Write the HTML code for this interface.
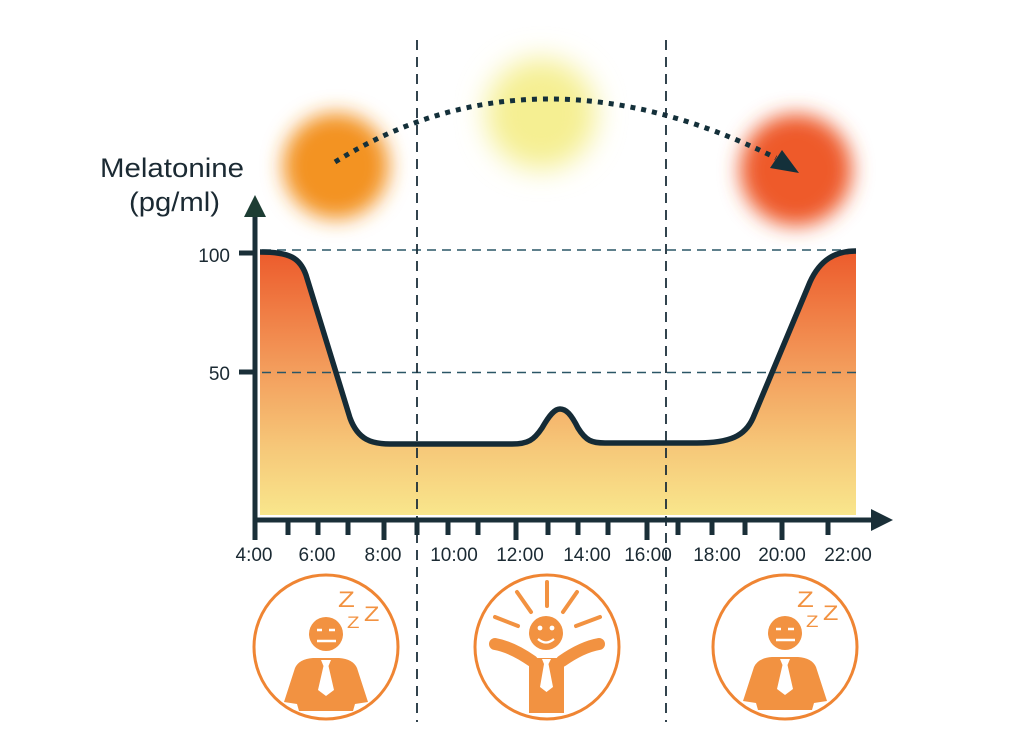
<!DOCTYPE html>
<html>
<head>
<meta charset="utf-8">
<style>
  html, body { margin:0; padding:0; background:#ffffff; }
  svg { display:block; }
  text { font-family: "Liberation Sans", "DejaVu Sans", sans-serif; }
</style>
</head>
<body>
<svg width="1024" height="742" viewBox="0 0 1024 742" xmlns="http://www.w3.org/2000/svg">
  <defs>
    <linearGradient id="fillg" x1="0" y1="250" x2="0" y2="515" gradientUnits="userSpaceOnUse">
      <stop offset="0" stop-color="#ec5a2b"/>
      <stop offset="0.45" stop-color="#f39d5c"/>
      <stop offset="0.75" stop-color="#f6c879"/>
      <stop offset="1" stop-color="#f9e68c"/>
    </linearGradient>
    <filter id="blur1" x="-50%" y="-50%" width="200%" height="200%">
      <feGaussianBlur stdDeviation="10"/>
    </filter>
    <filter id="blur2" x="-50%" y="-50%" width="200%" height="200%">
      <feGaussianBlur stdDeviation="14"/>
    </filter>
  </defs>

  <!-- blobs -->
  <circle cx="336" cy="166" r="53" fill="#f39324" filter="url(#blur1)"/>
  <circle cx="541" cy="114" r="55" fill="#f5ef92" filter="url(#blur2)"/>
  <circle cx="796" cy="170" r="56" fill="#ee5a2b" filter="url(#blur1)"/>

  <!-- dotted arc -->
  <path d="M 335 162 Q 535 38 776 158" fill="none" stroke="#14303a" stroke-width="5" stroke-dasharray="5 6"/>
  <polygon points="782,150 770,168 799,173" fill="#14303a"/>

  <!-- area fill -->
  <path d="M 260 252 C 290 252, 300 258, 306 275 L 350 418 C 358 440, 372 444, 390 444 L 512 444 C 528 444, 534 440, 542 428 C 550 414, 555 409, 560 409 C 566 409, 571 414, 578 428 C 586 441, 592 443, 605 443 L 697 443 C 730 443, 745 436, 753 418 L 810 282 C 820 260, 835 251, 856 251 L 856 515 L 260 515 Z" fill="url(#fillg)"/>

  <!-- horizontal dashed -->
  <line x1="262" y1="250" x2="856" y2="250" stroke="#2a5666" stroke-width="1.6" stroke-dasharray="9 6"/>
  <line x1="262" y1="372.5" x2="856" y2="372.5" stroke="#2a5666" stroke-width="1.6" stroke-dasharray="9 6"/>

  <!-- vertical dashed -->
  <line x1="417" y1="40" x2="417" y2="722" stroke="#1c2f3a" stroke-width="1.8" stroke-dasharray="10 7"/>
  <line x1="666" y1="40" x2="666" y2="722" stroke="#1c2f3a" stroke-width="1.8" stroke-dasharray="10 7"/>

  <!-- curve stroke -->
  <path d="M 260 252 C 290 252, 300 258, 306 275 L 350 418 C 358 440, 372 444, 390 444 L 512 444 C 528 444, 534 440, 542 428 C 550 414, 555 409, 560 409 C 566 409, 571 414, 578 428 C 586 441, 592 443, 605 443 L 697 443 C 730 443, 745 436, 753 418 L 810 282 C 820 260, 835 251, 856 251" fill="none" stroke="#152b36" stroke-width="5.5" stroke-linejoin="round"/>

  <!-- y axis -->
  <line x1="255" y1="214" x2="255" y2="540" stroke="#1a2f38" stroke-width="5"/>
  <polygon points="255,195 244,217 266,217" fill="#1d3d33"/>
  <line x1="239" y1="253" x2="257" y2="253" stroke="#1a2f38" stroke-width="5"/>
  <line x1="239" y1="372" x2="257" y2="372" stroke="#1a2f38" stroke-width="5"/>

  <!-- x axis -->
  <line x1="253" y1="520" x2="874" y2="520" stroke="#1a2f38" stroke-width="5"/>
  <polygon points="893,520 871,509 871,531" fill="#1a2f38"/>
  <g stroke="#1a2f38" stroke-width="5">
    <line x1="288" y1="520" x2="288" y2="535"/>
    <line x1="318" y1="520" x2="318" y2="535"/>
    <line x1="348" y1="520" x2="348" y2="535"/>
    <line x1="384" y1="520" x2="384" y2="540"/>
    <line x1="417" y1="520" x2="417" y2="535"/>
    <line x1="448" y1="520" x2="448" y2="535"/>
    <line x1="478" y1="520" x2="478" y2="535"/>
    <line x1="516" y1="520" x2="516" y2="540"/>
    <line x1="548" y1="520" x2="548" y2="535"/>
    <line x1="578" y1="520" x2="578" y2="535"/>
    <line x1="608" y1="520" x2="608" y2="535"/>
    <line x1="647" y1="520" x2="647" y2="540"/>
    <line x1="678" y1="520" x2="678" y2="535"/>
    <line x1="712" y1="520" x2="712" y2="535"/>
    <line x1="745" y1="520" x2="745" y2="535"/>
    <line x1="782" y1="520" x2="782" y2="540"/>
    <line x1="828" y1="520" x2="828" y2="535"/>
  </g>

  <!-- labels -->
  <g fill="#1b2a33" font-size="19" text-anchor="middle">
    <text x="254" y="561">4:00</text>
    <text x="317" y="561">6:00</text>
    <text x="383" y="561">8:00</text>
    <text x="454" y="561">10:00</text>
    <text x="520" y="561">12:00</text>
    <text x="587" y="561">14:00</text>
    <text x="648" y="561">16:00</text>
    <text x="717" y="561">18:00</text>
    <text x="782" y="561">20:00</text>
    <text x="848" y="561">22:00</text>
  </g>
  <g fill="#1b2a33" font-size="19" text-anchor="end">
    <text x="230" y="262">100</text>
    <text x="230" y="380">50</text>
  </g>
  <text x="100" y="177" font-size="27" fill="#1b2a33" textLength="144" lengthAdjust="spacingAndGlyphs">Melatonine</text>
  <text x="129" y="211" font-size="27" fill="#1b2a33" textLength="91" lengthAdjust="spacingAndGlyphs">(pg/ml)</text>

  <!-- icon circles -->
  <g fill="none" stroke="#ef8533" stroke-width="3">
    <circle cx="326" cy="647" r="72"/>
    <circle cx="547" cy="647" r="72"/>
    <circle cx="785" cy="647" r="72"/>
  </g>

  <!-- sleeping figure left -->
  <g transform="translate(326,634)">
    <circle cx="0" cy="0" r="17" fill="#f29241"/>
    <g stroke="#ffffff" stroke-width="2.5">
      <line x1="-9" y1="-4" x2="-4" y2="-4"/>
      <line x1="3" y1="-4" x2="9" y2="-4"/>
      <line x1="-9" y1="7" x2="10" y2="7"/>
    </g>
    <path d="M -13 24 L 13 24 Q 27 25 31 34 L 42 68 L 29 70 L 27 77 L -27 77 L -29 70 L -42 68 L -31 34 Q -27 25 -13 24 Z" fill="#f29241"/>
    <path d="M -5 26 L 5 26 L 2.5 32 L 8 56 L 0 62 L -8 56 L -2.5 32 Z" fill="#ffffff"/>
    <g fill="#f29241">
      <text x="12" y="-27" font-size="22" transform="translate(12,-27) scale(1.25,1) translate(-12,27)">Z</text>
      <text x="38" y="-13" font-size="21" transform="translate(38,-13) scale(1.2,1) translate(-38,13)">Z</text>
      <text x="21" y="-6" font-size="17" transform="translate(21,-6) scale(1.2,1) translate(-21,6)">Z</text>
    </g>
  </g>

  <!-- sleeping figure right -->
  <g transform="translate(785,633)">
    <circle cx="0" cy="0" r="17" fill="#f29241"/>
    <g stroke="#ffffff" stroke-width="2.5">
      <line x1="-9" y1="-4" x2="-4" y2="-4"/>
      <line x1="3" y1="-4" x2="9" y2="-4"/>
      <line x1="-9" y1="7" x2="10" y2="7"/>
    </g>
    <path d="M -13 24 L 13 24 Q 27 25 31 34 L 42 68 L 29 70 L 27 77 L -27 77 L -29 70 L -42 68 L -31 34 Q -27 25 -13 24 Z" fill="#f29241"/>
    <path d="M -5 26 L 5 26 L 2.5 32 L 8 56 L 0 62 L -8 56 L -2.5 32 Z" fill="#ffffff"/>
    <g fill="#f29241">
      <text x="12" y="-26" font-size="22" transform="translate(12,-26) scale(1.25,1) translate(-12,26)">Z</text>
      <text x="38" y="-13" font-size="21" transform="translate(38,-13) scale(1.2,1) translate(-38,13)">Z</text>
      <text x="21" y="-6" font-size="17" transform="translate(21,-6) scale(1.2,1) translate(-21,6)">Z</text>
    </g>
  </g>

  <!-- happy figure middle -->
  <g transform="translate(546,633)">
    <g stroke="#f29241" stroke-width="4" stroke-linecap="round">
      <line x1="1" y1="-51" x2="1" y2="-27"/>
      <line x1="-29" y1="-41" x2="-15" y2="-21"/>
      <line x1="-51" y1="-16" x2="-28" y2="-7"/>
      <line x1="31" y1="-41" x2="17" y2="-21"/>
      <line x1="54" y1="-16" x2="30" y2="-7"/>
    </g>
    <circle cx="0" cy="0" r="17" fill="#f29241"/>
    <circle cx="-6" cy="-5" r="2.4" fill="#ffffff"/>
    <circle cx="6" cy="-5" r="2.4" fill="#ffffff"/>
    <path d="M -8 6 Q 0 13 8 6" fill="none" stroke="#ffffff" stroke-width="2.2"/>
    <path d="M -51 11 Q -34 14 -14 28" fill="none" stroke="#f29241" stroke-width="12" stroke-linecap="round"/>
    <path d="M 53 11 Q 36 14 16 28" fill="none" stroke="#f29241" stroke-width="12" stroke-linecap="round"/>
    <path d="M -17 25 L 18 25 L 18 80 L -17 80 Z" fill="#f29241"/>
    <path d="M -4 26 L 5 26 L 2.5 31 L 7 54 L 0.5 59 L -6 54 L -2 31 Z" fill="#ffffff"/>
  </g>
</svg>
</body>
</html>
